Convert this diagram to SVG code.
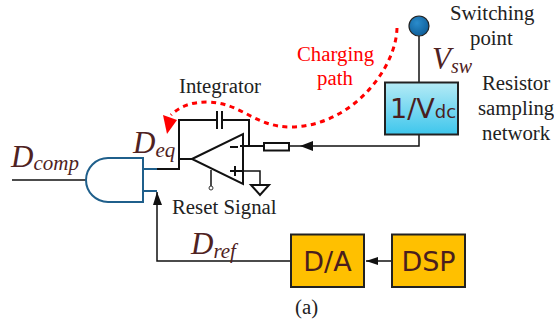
<svg xmlns="http://www.w3.org/2000/svg" width="554" height="326" viewBox="0 0 554 326">
<defs>
<linearGradient id="cy" x1="0" y1="0" x2="0" y2="1"><stop offset="0" stop-color="#b5ebf6"/><stop offset="1" stop-color="#3ec6ec"/></linearGradient>
<radialGradient id="bl" cx="0.4" cy="0.35" r="0.7"><stop offset="0" stop-color="#2a8ccc"/><stop offset="1" stop-color="#0e5c96"/></radialGradient>
</defs>
<style>
.s{font-family:"Liberation Serif",serif;font-size:20.8px;fill:#222}
.r{font-family:"Liberation Serif",serif;font-size:20.8px;fill:#f00}
.m{font-family:"Liberation Serif",serif;font-style:italic;fill:#4f2222}
.b{font-family:"DejaVu Sans",sans-serif;fill:#4a1e1e}
.w{fill:none;stroke:#111;stroke-width:2}
.t{fill:none;stroke:#111;stroke-width:1.5}
.box{stroke:#222;stroke-width:2}
</style>
<rect width="554" height="326" fill="#fff"/>
<g id="connectors">
<path class="t" d="M12 180H86"/>
<path class="w" d="M157 169H179V120H217M222 120H249V146M179 159H192"/>
<path class="w" d="M240 146H264"/>
<path class="t" d="M289 146H419V134"/>
<path d="M300 146L313 141V151Z" fill="#111"/>
<path class="t" d="M419 82V36"/>
<path class="t" d="M157 192V261H291"/>
<path d="M157 192L153 205H162Z" fill="#111"/>
<path class="t" d="M392 261H366"/>
<path d="M366 261L378 257V265Z" fill="#111"/>
<path d="M397 28C396 70 350 127 290 127C255 127 240 102 207 102C192 102 180 106 171 115" fill="none" stroke="#f00" stroke-width="3" stroke-dasharray="5 4.500"/>
<path d="M163 115L177 120L167 134Z" fill="#f00"/>
</g>
<g id="and-gate">
<path d="M143 158H108A22 22 0 0 0 108 202H143ZM143 169H157M143 191H157" fill="none" stroke="#1f5f8b" stroke-width="2"/>
</g>
<g id="integrator">
<path class="w" d="M192 159L243 134V184Z"/>
<path class="w" d="M217 111V129M222 111V129"/>
<path class="w" d="M230 147H238M230 171H243M235 166V176"/>
<path class="t" d="M243 171H260V185"/>
<path class="t" d="M211 170V186" stroke="#444"/>
<circle cx="211" cy="188" r="2" fill="#fff" stroke="#333"/>
<path d="M251 185H269L260 195Z" fill="#fff" stroke="#111" stroke-width="2"/>
<rect x="264" y="143" width="25" height="7.500" fill="#fff" stroke="#111" stroke-width="2"/>
</g>
<g id="switching-point"><circle cx="419" cy="26" r="10" fill="url(#bl)" stroke="#222" stroke-width="1.2"/></g>
<g id="sampling"><rect class="box" x="385" y="82.500" width="73" height="52" fill="url(#cy)"/><text class="b" x="390" y="118" font-size="27">1/V<tspan font-size="18">dc</tspan></text></g>
<g id="da"><rect class="box" x="291" y="234.500" width="73" height="52.500" fill="#ffc000"/><text class="b" x="327.500" y="271" font-size="27" text-anchor="middle">D/A</text></g>
<g id="dsp"><rect class="box" x="392" y="234.500" width="73" height="52.500" fill="#ffc000"/><text class="b" x="428.500" y="271" font-size="27" text-anchor="middle">DSP</text></g>
<g id="labels">
<text class="s" x="450" y="20">Switching</text>
<text class="s" x="470" y="45">point</text>
<text class="s" x="482" y="90">Resistor</text>
<text class="s" x="478" y="115">sampling</text>
<text class="s" x="482" y="140">network</text>
<text class="r" x="297" y="61">Charging</text>
<text class="r" x="317" y="85">path</text>
<text class="s" x="179" y="93">Integrator</text>
<text class="s" x="172" y="214">Reset Signal</text>
<text class="s" x="295" y="314">(a)</text>
<text class="m" x="432" y="69" font-size="31">V<tspan font-size="20" dy="4">sw</tspan></text>
<text class="m" x="133" y="153" font-size="31">D<tspan font-size="21" dy="4">eq</tspan></text>
<text class="m" x="11" y="167" font-size="31">D<tspan font-size="21" dy="3">comp</tspan></text>
<text class="m" x="191" y="254" font-size="31">D<tspan font-size="21" dy="4">ref</tspan></text>
</g>
</svg>
